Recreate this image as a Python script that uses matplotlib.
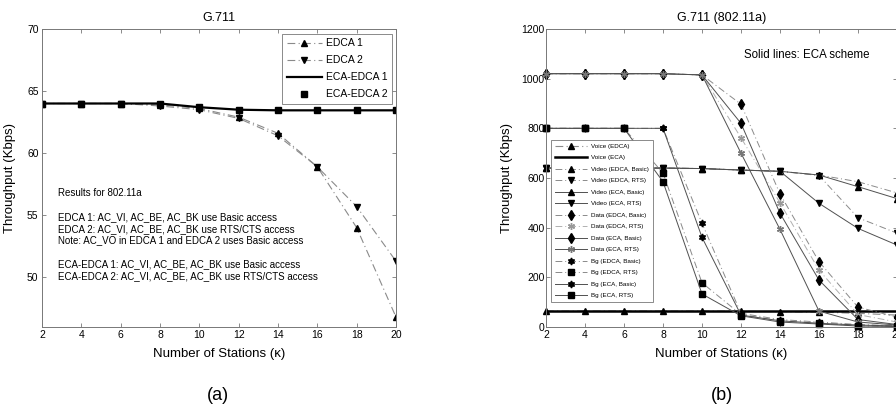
import matplotlib
matplotlib.use('Agg')
import matplotlib.pyplot as plt

plt.rcParams['font.family'] = ['Liberation Sans', 'DejaVu Sans']

# ---- data: panel (a) ----
stations = [2, 4, 6, 8, 10, 12, 14, 16, 18, 20]
edca1 = [64.0, 64.0, 64.0, 63.9, 63.6, 62.9, 61.6, 58.9, 54.0, 46.8]
edca2 = [64.0, 64.0, 64.0, 63.8, 63.5, 62.8, 61.4, 58.9, 55.7, 51.3]
eca_edca1 = [64.0, 64.0, 64.0, 64.0, 63.7, 63.5, 63.45, 63.45, 63.45, 63.45]
eca_edca2 = [64.0, 64.0, 64.0, 63.95, 63.7, 63.5, 63.45, 63.45, 63.45, 63.45]

notes_a = ["Results for 802.11a",
           "",
           "EDCA 1: AC_VI, AC_BE, AC_BK use Basic access",
           "EDCA 2: AC_VI, AC_BE, AC_BK use RTS/CTS access",
           "Note: AC_VO in EDCA 1 and EDCA 2 uses Basic access",
           "",
           "ECA-EDCA 1: AC_VI, AC_BE, AC_BK use Basic access",
           "ECA-EDCA 2: AC_VI, AC_BE, AC_BK use RTS/CTS access"]

# ---- data: panel (b) ----
voice_edca = [64, 64, 64, 64, 64, 63, 62, 60, 55, 48]
voice_eca = [64, 64, 64, 64, 64, 64, 64, 64, 64, 64]
video_edca_basic = [640, 640, 640, 640, 638, 632, 627, 612, 585, 540]
video_edca_rts = [640, 640, 640, 640, 638, 632, 627, 610, 440, 378]
video_eca_basic = [640, 640, 640, 640, 638, 632, 627, 612, 565, 517]
video_eca_rts = [640, 640, 640, 640, 638, 632, 627, 498, 397, 330]
data_edca_basic = [1020, 1020, 1020, 1020, 1015, 897, 536, 263, 80, 40]
data_edca_rts = [1020, 1020, 1020, 1020, 1015, 762, 500, 229, 50, 20]
data_eca_basic = [1020, 1020, 1020, 1020, 1015, 820, 458, 189, 30, 10]
data_eca_rts = [1020, 1020, 1020, 1020, 1015, 700, 393, 64, 20, 8]
bg_edca_basic = [800, 800, 800, 800, 418, 55, 30, 20, 10, 5]
bg_edca_rts = [800, 800, 800, 620, 178, 50, 25, 15, 5, 3]
bg_eca_basic = [800, 800, 800, 800, 361, 48, 25, 15, 8, 4]
bg_eca_rts = [800, 800, 800, 585, 133, 45, 20, 12, 4, 2]

DASHDOT = (0, (7, 3, 1, 3))
EDCA_C = '#8a8a8a'
ECA_C = '#505050'
AX_C = '#777777'


def style_axes(ax):
    for s in ax.spines.values():
        s.set_color(AX_C)
        s.set_linewidth(0.7)
    ax.tick_params(direction='in', top=True, right=True, length=3,
                   width=0.6, color=AX_C, labelsize=7.5, pad=2.5)
    ax.set_xlim(2, 20)
    ax.set_xticks(stations)


fig = plt.figure(figsize=(8.96, 4.08), dpi=100)

# ---------------- panel (a) ----------------
ax1 = fig.add_axes([42 / 896, 81 / 408, 354 / 896, 298 / 408])
ax1.plot(stations, edca1, linestyle=DASHDOT, color=EDCA_C, lw=0.8,
         marker='^', ms=5, mfc='black', mec='black', label='EDCA 1')
ax1.plot(stations, edca2, linestyle=DASHDOT, color=EDCA_C, lw=0.8,
         marker='v', ms=5, mfc='black', mec='black', label='EDCA 2')
ax1.plot(stations, eca_edca1, '-', color='black', lw=1.6, label='ECA-EDCA 1')
ax1.plot(stations, eca_edca2, linestyle='none', marker='s', ms=5,
         mfc='black', mec='black', label='ECA-EDCA 2')
style_axes(ax1)
ax1.set_ylim(46, 70)
ax1.set_yticks([50, 55, 60, 65, 70])
ax1.set_title('G.711', fontsize=9, pad=6)
ax1.set_xlabel('Number of Stations (\u03ba)', fontsize=9.5, va='center')
ax1.xaxis.set_label_coords(0.5, -0.092)
ax1.set_ylabel('Throughput (Kbps)', fontsize=9.5, va='center')
ax1.yaxis.set_label_coords(-0.09, 0.5)
leg1 = ax1.legend(loc='upper right', bbox_to_anchor=(1 - 4 / 354, 1 - 5 / 298),
                  borderaxespad=0, fontsize=7.5, handlelength=3.4,
                  handletextpad=0.4, labelspacing=0.68, fancybox=False,
                  edgecolor=AX_C, framealpha=1, borderpad=0.4)
leg1.get_frame().set_linewidth(0.6)
ax1.text(0.045, 0.465, "\n".join(notes_a), transform=ax1.transAxes,
         fontsize=7, va='top', ha='left', linespacing=1.22)

# ---------------- panel (b) ----------------
ax2 = fig.add_axes([546 / 896, 81 / 408, 351 / 896, 298 / 408])

series_b = [
    ('Voice (EDCA)', voice_edca, DASHDOT, EDCA_C, '^', 'black', 0.8, 5),
    ('Voice (ECA)', voice_eca, '-', 'black', None, 'black', 1.8, 5),
    ('Video (EDCA, Basic)', video_edca_basic, DASHDOT, EDCA_C, '^', 'black', 0.7, 5),
    ('Video (EDCA, RTS)', video_edca_rts, DASHDOT, EDCA_C, 'v', 'black', 0.7, 5),
    ('Video (ECA, Basic)', video_eca_basic, '-', ECA_C, '^', 'black', 0.7, 5),
    ('Video (ECA, RTS)', video_eca_rts, '-', ECA_C, 'v', 'black', 0.7, 5),
    ('Data (EDCA, Basic)', data_edca_basic, DASHDOT, EDCA_C, 'd', 'black', 0.7, 5),
    ('Data (EDCA, RTS)', data_edca_rts, DASHDOT, '#b0b0b0', (6, 2, 0), '#999999', 0.7, 5),
    ('Data (ECA, Basic)', data_eca_basic, '-', ECA_C, 'd', 'black', 0.7, 5),
    ('Data (ECA, RTS)', data_eca_rts, '-', ECA_C, (6, 2, 0), '#777777', 0.7, 5),
    ('Bg (EDCA, Basic)', bg_edca_basic, DASHDOT, EDCA_C, (6, 1, 0), 'black', 0.7, 5),
    ('Bg (EDCA, RTS)', bg_edca_rts, DASHDOT, EDCA_C, 's', 'black', 0.7, 5),
    ('Bg (ECA, Basic)', bg_eca_basic, '-', ECA_C, (6, 1, 0), 'black', 0.7, 5),
    ('Bg (ECA, RTS)', bg_eca_rts, '-', ECA_C, 's', 'black', 0.7, 5),
]
for name, vals, ls, lc, mk, mc, lw, ms in series_b:
    ax2.plot(stations, vals, linestyle=ls, color=lc, lw=lw, marker=mk,
             ms=ms, mfc=mc, mec=mc, label=name, clip_on=False)

style_axes(ax2)
ax2.set_ylim(0, 1200)
ax2.set_yticks(range(0, 1201, 200))
ax2.tick_params(axis='y', pad=1)
ax2.set_title('G.711 (802.11a)', fontsize=9, pad=6)
ax2.set_xlabel('Number of Stations (\u03ba)', fontsize=9.5, va='center')
ax2.xaxis.set_label_coords(0.5, -0.092)
ax2.set_ylabel('Throughput (Kbps)', fontsize=9.5, va='center')
ax2.yaxis.set_label_coords(-0.111, 0.5)
ax2.text(12.15, 1095, 'Solid lines: ECA scheme', fontsize=8.3, va='center', ha='left')
leg2 = ax2.legend(loc='lower left', bbox_to_anchor=(5 / 351, 25 / 298),
                  borderaxespad=0, fontsize=4.5, handlelength=5.2,
                  handletextpad=0.6, labelspacing=0.98, fancybox=False,
                  edgecolor=AX_C, framealpha=1, borderpad=0.6, markerscale=1.0)
leg2.get_frame().set_linewidth(0.6)

fig.text(218 / 896, 1 - 395 / 408, '(a)', fontsize=13, ha='center', va='center')
fig.text(722 / 896, 1 - 395 / 408, '(b)', fontsize=13, ha='center', va='center')

fig.savefig('out.png', dpi=100)
